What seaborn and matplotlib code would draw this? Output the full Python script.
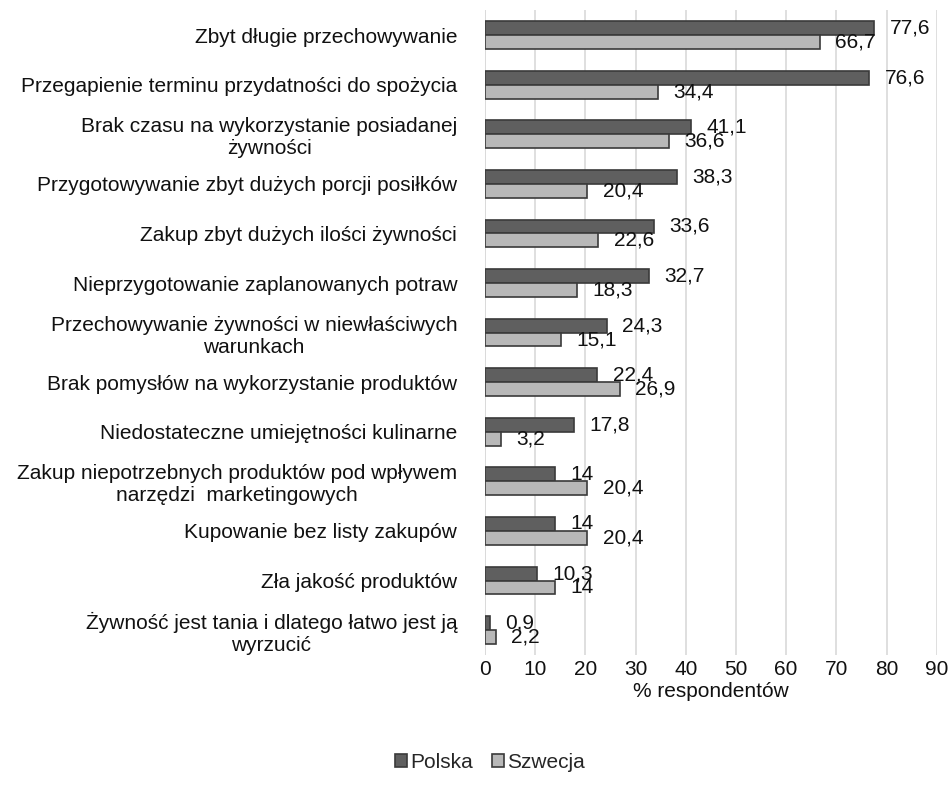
import matplotlib
matplotlib.use("Agg")
import matplotlib.pyplot as plt
import seaborn as sns
import pandas as pd

przyczyny = [
    "Zbyt długie przechowywanie",
    "Przegapienie terminu przydatności do spożycia",
    "Brak czasu na wykorzystanie posiadanej\nżywności",
    "Przygotowywanie zbyt dużych porcji posiłków",
    "Zakup zbyt dużych ilości żywności",
    "Nieprzygotowanie zaplanowanych potraw",
    "Przechowywanie żywności w niewłaściwych\nwarunkach",
    "Brak pomysłów na wykorzystanie produktów",
    "Niedostateczne umiejętności kulinarne",
    "Zakup niepotrzebnych produktów pod wpływem\nnarzędzi  marketingowych",
    "Kupowanie bez listy zakupów",
    "Zła jakość produktów",
    "Żywność jest tania i dlatego łatwo jest ją\nwyrzucić",
]
polska = [77.6, 76.6, 41.1, 38.3, 33.6, 32.7, 24.3, 22.4, 17.8, 14, 14, 10.3, 0.9]
szwecja = [66.7, 34.4, 36.6, 20.4, 22.6, 18.3, 15.1, 26.9, 3.2, 20.4, 20.4, 14, 2.2]
kraje = ["Polska", "Szwecja"]

df = pd.DataFrame({
    "przyczyna": przyczyny * 2,
    "wartosc": polska + szwecja,
    "kraj": ["Polska"] * len(polska) + ["Szwecja"] * len(szwecja),
})

sns.set_style("white")
plt.rcParams["font.family"] = ["Liberation Sans", "DejaVu Sans"]
FS = 15

fig, ax = plt.subplots(figsize=(9.51, 7.9), dpi=100)
fig.subplots_adjust(left=0.51, right=0.985, top=0.987, bottom=0.171)

sns.barplot(data=df, y="przyczyna", x="wartosc", hue="kraj", orient="h",
            palette=["#5f5f5f", "#b8b8b8"], edgecolor="#3a3a3a", linewidth=1.2,
            width=0.56, ax=ax)

def fmt(v):
    return f"{v:g}".replace(".", ",")

for cont in ax.containers:
    ax.bar_label(cont, labels=[fmt(b.get_width()) for b in cont],
                 padding=11, fontsize=FS, color="#111111")

ax.set_xlim(0, 90)
ax.set_xticks(range(0, 91, 10))
ax.set_ylim(12.5, -0.5)
ax.grid(axis="x", color="#d9d9d9", linewidth=1.2)
ax.set_axisbelow(True)
for s in ax.spines.values():
    s.set_visible(False)
ax.axvline(0, color="#d9d9d9", linewidth=1.2, zorder=0)
ax.tick_params(axis="both", length=0, labelsize=FS, colors="#111111")
ax.tick_params(axis="y", pad=20)
ax.tick_params(axis="x", pad=4)
for t in ax.get_yticklabels():
    t.set_multialignment("center")
ax.set_ylabel("")
ax.set_xlabel("% respondentów", fontsize=FS, color="#111111", labelpad=2)

handles, labels = ax.get_legend_handles_labels()
ax.legend(handles, labels, loc="center", bbox_to_anchor=(0.515, 0.035),
          bbox_transform=fig.transFigure, ncol=2, frameon=False, fontsize=FS,
          handlelength=0.6, handleheight=0.6, handletextpad=0.15, columnspacing=0.9)

fig.savefig("out.png", dpi=100)
